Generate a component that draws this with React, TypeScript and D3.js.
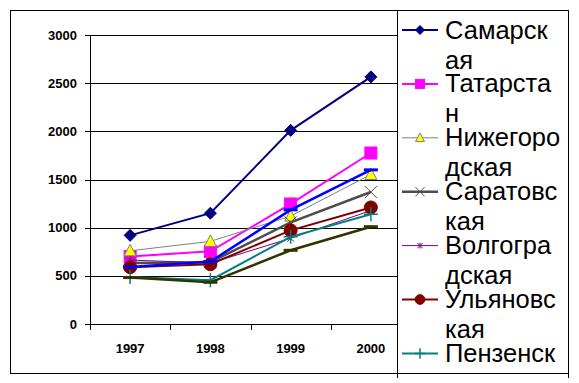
import React from "react";
import * as d3 from "d3";

const years = ["1997", "1998", "1999", "2000"];
const yTicks = [0, 500, 1000, 1500, 2000, 2500, 3000];

const samara = [920, 1150, 2010, 2565];
const tatarstan = [700, 755, 1246, 1775];
const nizhny = [760, 858, 1120, 1552];
const saratov = [632, 642, 1055, 1370];
const volgograd = [664, 632, 890, 1178];
const ulyanovsk = [590, 620, 972, 1210];
const penza = [488, 455, 905, 1140];
const series8 = [592, 648, 1185, 1600];
const series9 = [482, 433, 765, 1010];

type Marker = "diamond" | "square" | "triangle" | "x" | "star" | "circle" | "plus" | "dash";

const seriesList: { name: string[] | null; values: number[]; color: string; width: number; marker: Marker; fill: string }[] = [
  { name: ["Самарск", "ая"], values: samara, color: "#000080", width: 2, marker: "diamond", fill: "#000080" },
  { name: ["Татарста", "н"], values: tatarstan, color: "#FF00FF", width: 2, marker: "square", fill: "#FF00FF" },
  { name: ["Нижегоро", "дская"], values: nizhny, color: "#808080", width: 1, marker: "triangle", fill: "#FFFF00" },
  { name: ["Саратовс", "кая"], values: saratov, color: "#4D4D4D", width: 2.5, marker: "x", fill: "none" },
  { name: ["Волгогра", "дская"], values: volgograd, color: "#800080", width: 1, marker: "star", fill: "none" },
  { name: ["Ульяновс", "кая"], values: ulyanovsk, color: "#800000", width: 2, marker: "circle", fill: "#800000" },
  { name: ["Пензенск", "ая"], values: penza, color: "#008080", width: 2, marker: "plus", fill: "none" },
  { name: null, values: series8, color: "#0000FF", width: 2.5, marker: "dash", fill: "#0000FF" },
  { name: null, values: series9, color: "#333300", width: 2.5, marker: "dash", fill: "#333300" },
];

const FONT = "Arial, 'Liberation Sans', sans-serif";

function MarkerShape({ type, x, y, color, fill, s }: { type: Marker; x: number; y: number; color: string; fill: string; s: number }) {
  switch (type) {
    case "diamond":
      return <path d={`M${x},${y - 6 * s}L${x + 6 * s},${y}L${x},${y + 6 * s}L${x - 6 * s},${y}Z`} fill={fill} stroke={color} strokeWidth={1} />;
    case "square":
      return <rect x={x - 6 * s} y={y - 6 * s} width={12 * s} height={12 * s} fill={fill} stroke={color} strokeWidth={1} />;
    case "triangle":
      return <path d={`M${x},${y - 6.5 * s}L${x + 6 * s},${y + 5 * s}L${x - 6 * s},${y + 5 * s}Z`} fill={fill} stroke={color} strokeWidth={1} />;
    case "x":
      return <path d={`M${x - 6 * s},${y - 6 * s}L${x + 6 * s},${y + 6 * s}M${x - 6 * s},${y + 6 * s}L${x + 6 * s},${y - 6 * s}`} stroke={color} strokeWidth={1} fill="none" />;
    case "star":
      return <path d={`M${x - 3.5 * s},${y - 3.5 * s}L${x + 3.5 * s},${y + 3.5 * s}M${x - 3.5 * s},${y + 3.5 * s}L${x + 3.5 * s},${y - 3.5 * s}M${x},${y - 4 * s}L${x},${y + 4 * s}`} stroke={color} strokeWidth={1} fill="none" />;
    case "circle":
      return <circle cx={x} cy={y} r={6.5 * s} fill={fill} stroke={color} strokeWidth={1} />;
    case "plus":
      return <path d={`M${x - 7 * s},${y}L${x + 7 * s},${y}M${x},${y - 7 * s}L${x},${y + 7 * s}`} stroke={color} strokeWidth={1.5} fill="none" />;
    case "dash":
      return <path d={`M${x - 7 * s},${y}L${x + 7 * s},${y}`} stroke={color} strokeWidth={3} fill="none" />;
  }
}

export default function App() {
  const x = d3.scaleBand<string>().domain(years).range([90, 411]).padding(0);
  const bw = x.bandwidth();
  const cx = (c: string) => (x(c) as number) + bw / 2;
  const y = d3.scaleLinear().domain([0, 3000]).range([324, 35]);
  const line = d3
    .line<number>()
    .x((_, i) => cx(years[i]))
    .y((v) => y(v));

  const legendX = 397;
  const legendTop = 10;
  const legendBottom = 373;
  const itemStep = 53.9;
  const firstItemY = 30;

  return (
    <div style={{ position: "absolute", left: 0, top: 0 }}>
      <svg width={579} height={383} style={{ display: "block", background: "#fff" }}>
        <defs>
          <clipPath id="plotClip">
            <rect x={0} y={0} width={397} height={383} />
          </clipPath>
          <clipPath id="legendClip">
            <rect x={398} y={11} width={170} height={362} />
          </clipPath>
        </defs>
        <rect x={0} y={0} width={579} height={383} fill="#fff" />
        <rect x={10.5} y={10.5} width={558} height={363} fill="none" stroke="#000" strokeWidth={1} />

        <g clipPath="url(#plotClip)">
          {yTicks.map((t) => (
            <line key={t} x1={85} x2={411} y1={Math.round(y(t)) + 0.5} y2={Math.round(y(t)) + 0.5} stroke="#000" strokeWidth={1} />
          ))}
          <line x1={90.5} x2={90.5} y1={35} y2={330} stroke="#000" strokeWidth={1} />
          {years.map((c) => (
            <line key={c} x1={Math.round(x(c) as number) + 0.5} x2={Math.round(x(c) as number) + 0.5} y1={324} y2={330} stroke="#000" strokeWidth={1} />
          ))}
          {seriesList.map((s, si) => (
            <g key={si}>
              <path d={line(s.values) || ""} fill="none" stroke={s.color} strokeWidth={s.width} />
              {s.values.map((v, i) => (
                <MarkerShape key={i} type={s.marker} x={cx(years[i])} y={y(v)} color={s.color} fill={s.fill} s={1} />
              ))}
            </g>
          ))}
        </g>

        {yTicks.map((t) => (
          <text key={t} x={77} y={y(t) + 4.5} textAnchor="end" fontFamily={FONT} fontWeight="bold" fontSize={13} fill="#000">
            {t}
          </text>
        ))}
        {years.map((c) => (
          <text key={c} x={cx(c)} y={353} textAnchor="middle" fontFamily={FONT} fontWeight="bold" fontSize={13} fill="#000">
            {c}
          </text>
        ))}

        <rect x={legendX + 0.5} y={legendTop + 0.5} width={170} height={368} fill="#fff" stroke="none" />
        <line x1={legendX + 0.5} x2={legendX + 0.5} y1={legendTop} y2={378} stroke="#000" />
        <line x1={568.5} x2={568.5} y1={legendTop} y2={378} stroke="#000" />
        <line x1={legendX} x2={569} y1={10.5} y2={10.5} stroke="#000" />
        <line x1={legendX} x2={569} y1={373.5} y2={373.5} stroke="#000" />
        <line x1={10} x2={398} y1={373.5} y2={373.5} stroke="#000" />
        <g clipPath="url(#legendClip)">
          {seriesList
            .filter((s) => s.name)
            .map((s, i) => {
              const my = firstItemY + i * itemStep;
              return (
                <g key={i}>
                  <line x1={402} x2={438} y1={my} y2={my} stroke={s.color} strokeWidth={s.width} />
                  <MarkerShape type={s.marker} x={420} y={my} color={s.color} fill={s.fill} s={0.75} />
                  {(s.name as string[]).map((ln, li) => {
                    const by = my + 8.5 + li * 30;
                    if (by > legendBottom) return null;
                    return (
                      <text key={li} x={445} y={by} fontFamily={FONT} fontSize={25.5} fill="#000">
                        {ln}
                      </text>
                    );
                  })}
                </g>
              );
            })}
        </g>
      </svg>
    </div>
  );
}
